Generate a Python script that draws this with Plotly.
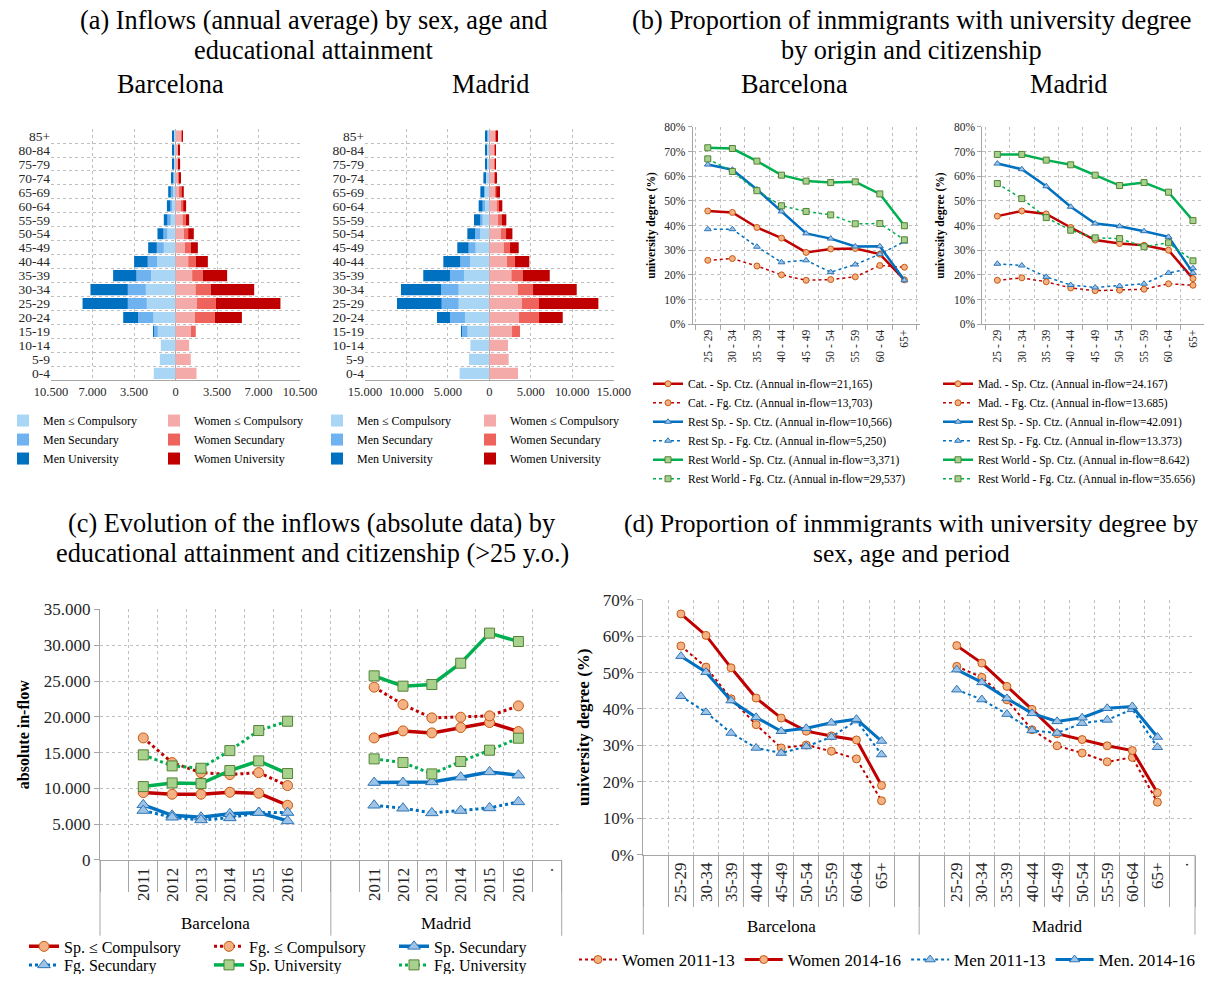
import plotly.graph_objects as go

W, H = 1212, 982          # picture size; positions below are given in picture pixels
SY = 0.984                # measured vertical ratio picture/figure of the photographed page
FONT = "Liberation Serif"
TXT = "#000000"
TICK = "#262626"
GRID = "#BFBFBF"
AXIS = "#A6A6A6"


def fx(p):
    return p / W


def fy(p):
    return 1 - (p / SY) / H


# ---------------- Panel (a): population pyramids ----------------
ages = ["0-4", "5-9", "10-14", "15-19", "20-24", "25-29", "30-34", "35-39", "40-44",
        "45-49", "50-54", "55-59", "60-64", "65-69", "70-74", "75-79", "80-84", "85+"]

bcn_men_comp = [1830, 1320, 1240, 1490, 1855, 2420, 2500, 2050, 1550, 985, 675, 395, 335, 280, 195, 140, 140, 140]
bcn_men_sec = [0, 0, 0, 340, 1290, 1600, 1520, 1240, 790, 590, 340, 280, 110, 110, 55, 30, 30, 30]
bcn_men_univ = [0, 0, 0, 50, 1265, 3820, 3150, 1970, 1150, 730, 505, 310, 280, 225, 110, 85, 55, 85]
bcn_women_comp = [1770, 1290, 1150, 1290, 1630, 1800, 1690, 1405, 1070, 790, 700, 590, 505, 365, 280, 225, 225, 480]
bcn_women_sec = [0, 0, 0, 420, 1690, 1600, 1290, 900, 650, 505, 365, 280, 140, 140, 85, 55, 55, 85]
bcn_women_univ = [0, 0, 0, 0, 2280, 5450, 3655, 2050, 1010, 590, 480, 280, 250, 195, 85, 110, 85, 55]

mad_men_comp = [3580, 2450, 2290, 2615, 2940, 3700, 3700, 3060, 2330, 1650, 1125, 805, 565, 565, 440, 320, 320, 280]
mad_men_sec = [0, 0, 0, 685, 1810, 2050, 2130, 1690, 1170, 845, 605, 280, 240, 80, 80, 80, 80, 80]
mad_men_univ = [0, 0, 0, 120, 1570, 5390, 4830, 3220, 2050, 1370, 925, 765, 485, 440, 200, 120, 80, 120]
mad_women_comp = [3460, 2330, 2250, 2735, 3580, 3940, 3420, 2655, 2130, 1730, 1370, 1045, 885, 725, 605, 565, 565, 765]
mad_women_sec = [0, 0, 0, 965, 2415, 2050, 1850, 1370, 965, 765, 645, 440, 280, 120, 160, 120, 120, 120]
mad_women_univ = [0, 0, 0, 0, 2855, 7160, 5270, 3260, 1730, 1045, 765, 565, 400, 440, 160, 80, 80, 80]

pyr_names = ["Men ≤ Compulsory", "Men Secundary", "Men University",
             "Women ≤ Compulsory", "Women Secundary", "Women University"]
pyr_colors = ["#AAD6F5", "#6EB3F0", "#0070C0", "#F5AAAA", "#EE645C", "#C00000"]

bcn_ticks = [-10500, -7000, -3500, 0, 3500, 7000, 10500]
mad_ticks = [-15000, -10000, -5000, 0, 5000, 10000, 15000]

# ---------------- Panel (b) ----------------
b_ages = ["25 - 29", "30 - 34", "35 - 39", "40 - 44", "45 - 49", "50 - 54", "55 - 59", "60 - 64", "65+"]

bcn_cat_sp = [45.9, 45.3, 39.2, 34.9, 29.1, 30.5, 30.7, 28.4, 18.0]
bcn_cat_fg = [25.9, 26.6, 23.6, 20.0, 17.8, 18.1, 19.2, 23.8, 23.1]
bcn_rsp_sp = [64.7, 62.6, 54.6, 45.7, 36.8, 34.7, 31.5, 31.6, 17.8]
bcn_rsp_fg = [38.5, 38.5, 31.4, 25.1, 25.9, 21.1, 24.2, 28.4, 33.5]
bcn_rw_sp = [71.5, 71.2, 66.1, 60.4, 58.0, 57.4, 57.7, 52.8, 39.9]
bcn_rw_fg = [67.0, 61.9, 54.1, 48.0, 45.7, 44.3, 40.7, 40.8, 34.2]

mad_mad_sp = [43.8, 45.9, 44.7, 39.2, 34.1, 32.7, 32.0, 30.0, 18.5]
mad_mad_fg = [17.8, 18.8, 17.2, 14.7, 13.6, 13.8, 14.2, 16.4, 15.8]
mad_rsp_sp = [65.1, 62.8, 55.9, 47.6, 40.8, 39.7, 37.7, 35.4, 20.8]
mad_rsp_fg = [24.5, 23.8, 19.2, 15.9, 14.9, 15.5, 16.4, 20.8, 22.7]
mad_rw_sp = [68.8, 68.8, 66.5, 64.6, 60.4, 56.2, 57.4, 53.5, 42.0]
mad_rw_fg = [57.0, 50.9, 43.2, 38.1, 35.0, 34.7, 31.4, 33.0, 25.7]

bcn_b_names = ["Cat. - Sp. Ctz. (Annual in-flow=21,165)", "Cat. - Fg. Ctz. (Annual in-flow=13,703)",
               "Rest Sp. - Sp. Ctz. (Annual in-flow=10,566)", "Rest Sp. - Fg. Ctz. (Annual in-flow=5,250)",
               "Rest World - Sp. Ctz. (Annual in-flow=3,371)", "Rest World - Fg. Ctz. (Annual in-flow=29,537)"]
mad_b_names = ["Mad. - Sp. Ctz. (Annual in-flow=24.167)", "Mad. - Fg. Ctz. (Annual in-flow=13.685)",
               "Rest Sp. - Sp. Ctz. (Annual in-flow=42.091)", "Rest Sp. - Fg. Ctz. (Annual in-flow=13.373)",
               "Rest World - Sp. Ctz. (Annual in-flow=8.642)", "Rest World - Fg. Ctz. (Annual in-flow=35.656)"]

# ---------------- Panel (c) ----------------
years = ["2011", "2012", "2013", "2014", "2015", "2016"]
c_names = ["Sp. ≤ Compulsory", "Fg. ≤ Compulsory", "Sp. Secundary",
           "Fg. Secundary", "Sp. University", "Fg. University"]
bcn_c_sp_comp = [9410, 9180, 9180, 9460, 9320, 7640]
bcn_c_fg_comp = [17050, 13600, 12200, 11930, 12200, 10390]
bcn_c_sp_sec = [7700, 6240, 5970, 6450, 6620, 5450]
bcn_c_fg_sec = [6900, 5960, 5590, 5870, 6620, 6620]
bcn_c_sp_univ = [10250, 10760, 10670, 12490, 13840, 12070]
bcn_c_fg_univ = [14680, 13140, 12810, 15280, 18080, 19380]
mad_c_sp_comp = [17050, 18030, 17750, 18500, 19200, 17940]
mad_c_fg_comp = [24140, 21710, 19850, 19940, 20130, 21530]
mad_c_sp_sec = [10810, 10810, 10900, 11560, 12300, 11840]
mad_c_fg_sec = [7640, 7220, 6570, 6900, 7270, 8110]
mad_c_sp_univ = [25720, 24280, 24510, 27490, 31690, 30520]
mad_c_fg_univ = [14120, 13610, 12020, 13750, 15330, 17010]
c_groups = ["Barcelona", "Madrid"]

# ---------------- Panel (d) ----------------
d_ages = ["25-29", "30-34", "35-39", "40-44", "45-49", "50-54", "55-59", "60-64", "65+"]
d_names = ["Women 2011-13", "Women 2014-16", "Men 2011-13", "Men. 2014-16"]
bcn_d_w1 = [57.3, 51.5, 42.8, 35.7, 29.3, 30.1, 28.4, 26.3, 14.8]
bcn_d_w2 = [66.1, 60.2, 51.3, 43.0, 37.5, 33.9, 32.6, 31.5, 19.0]
bcn_d_m1 = [43.5, 39.1, 33.4, 29.3, 27.9, 29.7, 32.3, 36.8, 27.5]
bcn_d_m2 = [54.5, 50.1, 42.3, 37.7, 33.9, 34.7, 36.2, 37.2, 31.2]
mad_d_w1 = [51.7, 48.7, 42.5, 34.3, 29.9, 27.9, 25.5, 26.7, 14.4]
mad_d_w2 = [57.4, 52.6, 46.2, 39.9, 33.2, 31.6, 29.9, 28.6, 17.0]
mad_d_m1 = [45.3, 42.6, 38.6, 34.1, 33.4, 36.1, 37.0, 39.9, 29.5]
mad_d_m2 = [50.8, 47.3, 42.9, 38.8, 36.6, 37.6, 40.2, 40.7, 32.3]

# ---------------- styles ----------------
RED, BLUE, GREEN = "#C00000", "#0070C0", "#00B050"
CIRC = dict(symbol="circle", color="#F4B183", line=dict(color="#C55A11", width=1))
TRI = dict(symbol="triangle-up", color="#9DC3E6", line=dict(color="#2E75B6", width=1))
SQR = dict(symbol="square", color="#A9D18E", line=dict(color="#548235", width=1))
line_styles = [(RED, "solid", CIRC), (RED, "dot", CIRC), (BLUE, "solid", TRI),
               (BLUE, "dot", TRI), (GREEN, "solid", SQR), (GREEN, "dot", SQR)]

fig = go.Figure()

# ---- (a) traces
for ax_id, leg_m, leg_w, series in [
    ("", "legend", "legend2", [bcn_men_comp, bcn_men_sec, bcn_men_univ,
                               bcn_women_comp, bcn_women_sec, bcn_women_univ]),
    ("2", "legend3", "legend4", [mad_men_comp, mad_men_sec, mad_men_univ,
                                 mad_women_comp, mad_women_sec, mad_women_univ]),
]:
    for i, vals in enumerate(series):
        men = i < 3
        fig.add_trace(go.Bar(
            y=ages, x=[-v for v in vals] if men else vals, orientation="h",
            name=pyr_names[i], marker=dict(color=pyr_colors[i], line=dict(width=0)),
            legend=leg_m if men else leg_w, xaxis="x" + ax_id, yaxis="y" + ax_id,
        ))

# ---- (b) traces
for ax_id, leg, names, series in [
    ("3", "legend5", bcn_b_names, [bcn_cat_sp, bcn_cat_fg, bcn_rsp_sp, bcn_rsp_fg, bcn_rw_sp, bcn_rw_fg]),
    ("4", "legend6", mad_b_names, [mad_mad_sp, mad_mad_fg, mad_rsp_sp, mad_rsp_fg, mad_rw_sp, mad_rw_fg]),
]:
    for (col, dash, mk), name, vals in zip(line_styles, names, series):
        fig.add_trace(go.Scatter(
            x=b_ages, y=vals, mode="lines+markers", name=name,
            line=dict(color=col, dash=dash, width=2.5 if dash == "solid" else 1.5),
            marker=dict(mk, size=6), legend=leg, xaxis="x" + ax_id, yaxis="y" + ax_id,
        ))

# ---- (c) traces
c_labels = [""] + years + ["", ""] + years + ["."]
c_bcn_pos = [c_labels.index(y) for y in years]
c_mad_pos = [len(c_labels) - 1 - c_labels[::-1].index(y) for y in years]
c_series = [(bcn_c_sp_comp, mad_c_sp_comp), (bcn_c_fg_comp, mad_c_fg_comp),
            (bcn_c_sp_sec, mad_c_sp_sec), (bcn_c_fg_sec, mad_c_fg_sec),
            (bcn_c_sp_univ, mad_c_sp_univ), (bcn_c_fg_univ, mad_c_fg_univ)]
for k, ((col, dash, mk), name, (b, m)) in enumerate(zip(line_styles, c_names, c_series)):
    fig.add_trace(go.Scatter(
        x=c_bcn_pos + [None] + c_mad_pos, y=b + [None] + m, mode="lines+markers", name=name,
        line=dict(color=col, dash=dash, width=3.5 if dash == "solid" else 3),
        marker=dict(mk, size=10 if mk is not TRI else 11), connectgaps=False,
        legend="legend7" if k < 3 else "legend8", xaxis="x5", yaxis="y5",
    ))

# ---- (d) traces
d_labels = [""] + d_ages + ["", ""] + d_ages + ["."]
d_bcn_pos = list(range(1, 1 + len(d_ages)))
d_mad_pos = list(range(len(d_ages) + 3, 2 * len(d_ages) + 3))
d_styles = [(RED, "dot", CIRC), (RED, "solid", CIRC), (BLUE, "dot", TRI), (BLUE, "solid", TRI)]
d_series = [(bcn_d_w1, mad_d_w1), (bcn_d_w2, mad_d_w2), (bcn_d_m1, mad_d_m1), (bcn_d_m2, mad_d_m2)]
for (col, dash, mk), name, (b, m) in zip(d_styles, d_names, d_series):
    fig.add_trace(go.Scatter(
        x=d_bcn_pos + [None] + d_mad_pos, y=b + [None] + m, mode="lines+markers", name=name,
        line=dict(color=col, dash=dash, width=3 if dash == "solid" else 2),
        marker=dict(mk, size=8 if mk is not TRI else 9), connectgaps=False,
        legend="legend9", xaxis="x6", yaxis="y6",
    ))

# ---------------- axes ----------------
tf12 = dict(family=FONT, size=12.5, color=TICK)
tf14 = dict(family=FONT, size=13.5, color=TICK)
tf11 = dict(family=FONT, size=11.5, color=TICK)
tf16 = dict(family=FONT, size=17, color=TICK)
gridd = dict(showgrid=True, gridcolor=GRID, griddash="dot", gridwidth=1)


def thousands(v):
    return f"{abs(v):,}".replace(",", ".")


def pyr_x(dom, ticks, anchor):
    return dict(domain=dom, anchor=anchor, range=[ticks[0], ticks[-1]], tickmode="array",
                tickvals=ticks, ticktext=[thousands(v) for v in ticks], tickfont=tf12,
                zeroline=True, zerolinecolor=AXIS, zerolinewidth=1, showline=True,
                linecolor=AXIS, ticks="", automargin=False, fixedrange=True, **gridd)


def pyr_y(dom, anchor):
    return dict(domain=dom, anchor=anchor, type="category", categoryorder="array",
                categoryarray=ages, tickmode="array", tickvals=ages, ticktext=ages,
                tickson="boundaries", ticks="", tickfont=tf14,
                showline=False, automargin=False, **gridd)


def b_x(dom, anchor):
    return dict(domain=dom, anchor=anchor, type="category", categoryorder="array",
                categoryarray=b_ages, tickson="boundaries", ticks="outside", ticklen=5,
                tickcolor=AXIS, tickangle=-90, tickfont=tf11, showline=True, linecolor=AXIS,
                automargin=False, **gridd)


def b_y(dom, anchor):
    return dict(domain=dom, anchor=anchor, range=[0, 80], dtick=10, ticksuffix="%",
                ticks="outside", ticklen=4, tickcolor=AXIS, tickfont=tf11, showline=True,
                linecolor=AXIS, zeroline=False, automargin=False,
                title=dict(text="university degree (%)", standoff=6,
                           font=dict(family=FONT, size=11.5, color=TXT, weight="bold")),
                **gridd)


def cat_x(dom, anchor, labels, ticklen):
    n = len(labels)
    return dict(domain=dom, anchor=anchor, range=[-0.5, n - 0.5], tickmode="array",
                tickvals=list(range(n)), ticktext=labels, tickangle=-90, ticks="",
                tickfont=tf16, showgrid=False, zeroline=False, showline=True, linecolor=AXIS,
                automargin=False,
                minor=dict(tickmode="array", tickvals=[i - 0.5 for i in range(n + 1)],
                           ticks="outside", ticklen=ticklen / SY, tickcolor=AXIS, tickwidth=1,
                           showgrid=True, gridcolor=GRID, griddash="dot", gridwidth=1))


# plot areas in picture pixels: left, right, top, bottom
A1 = (51, 300, 129, 380)
A2 = (365, 613.7, 129, 380)
B1 = (692.7, 919.5, 126.7, 324)
B2 = (982.3, 1208, 126.7, 324)
C = (100, 561.7, 609, 859.3)
D = (643.3, 1195, 599.3, 854)


def xd(r):
    return [fx(r[0]), fx(r[1])]


def yd(r):
    return [fy(r[3]), fy(r[2])]


layout = dict(
    xaxis=pyr_x(xd(A1), bcn_ticks, "y"), yaxis=pyr_y(yd(A1), "x"),
    xaxis2=pyr_x(xd(A2), mad_ticks, "y2"), yaxis2=pyr_y(yd(A2), "x2"),
    xaxis3=b_x(xd(B1), "y3"), yaxis3=b_y(yd(B1), "x3"),
    xaxis4=b_x(xd(B2), "y4"), yaxis4=b_y(yd(B2), "x4"),
    xaxis5=cat_x(xd(C), "y5", c_labels, 31),
    yaxis5=dict(domain=yd(C), anchor="x5", range=[0, 35000], dtick=5000, tickformat=",d",
                ticks="outside", ticklen=5, tickcolor=AXIS, tickfont=tf16, showline=True,
                linecolor=AXIS, zeroline=False, automargin=False,
                title=dict(text="absolute in-flow", standoff=10,
                           font=dict(family=FONT, size=16, color=TXT, weight="bold")), **gridd),
    xaxis6=cat_x(xd(D), "y6", d_labels, 51),
    yaxis6=dict(domain=yd(D), anchor="x6", range=[0, 70], dtick=10, ticksuffix="%",
                ticks="outside", ticklen=5, tickcolor=AXIS, tickfont=tf16, showline=True,
                linecolor=AXIS, zeroline=False, automargin=False,
                title=dict(text="university degree (%)", standoff=8,
                           font=dict(family=FONT, size=17, color=TXT, weight="bold")), **gridd),
)


def leg(x_px, center_px, size, orientation="v", **kw):
    # first legend row is drawn about (10 + size/2) px below the legend's top edge
    top = center_px / SY - (9.5 + size / 2)
    return dict(x=fx(x_px), y=1 - top / H, xanchor="left", yanchor="top", xref="paper", yref="paper",
                orientation=orientation, font=dict(family=FONT, size=size, color=TXT),
                bgcolor="rgba(0,0,0,0)", borderwidth=0, tracegroupgap=0, traceorder="normal", **kw)


layout.update(
    legend=leg(3, 421, 12), legend2=leg(154, 421, 12),
    legend3=leg(317, 421, 12), legend4=leg(470, 421, 12),
    legend5=leg(648, 384, 11.5), legend6=leg(938, 384, 11.5),
    legend7=leg(24, 946, 16, "h", entrywidth=140), legend8=leg(24, 965, 16, "h", entrywidth=140),
    legend9=leg(574, 959, 17, "h", itemwidth=38),
)

# ---------------- annotations & shapes ----------------
ann = []


def text(x_px, y_px, s, size, **kw):
    ann.append(dict(x=fx(x_px), y=fy(y_px), xref="paper", yref="paper", text=s, showarrow=False,
                    xanchor="center", yanchor="middle", font=dict(family=FONT, size=size, color=TXT), **kw))


TS = 26.3
text(313, 20, "(a) Inflows (annual average) by sex, age and", TS)
text(313, 50, "educational attainment", TS)
text(171, 84, "Barcelona", TS)
text(490, 84, "Madrid", TS)
text(911, 20, "(b) Proportion of inmmigrants with university degree", TS)
text(911, 50, "by origin and citizenship", TS)
text(794, 84, "Barcelona", TS)
text(1068, 84, "Madrid", TS)
text(312, 523, "(c) Evolution of the inflows (absolute data) by", TS)
text(312, 553, "educational attainment and citizenship (>25 y.o.)", TS)
text(911, 523, "(d) Proportion of inmmigrants with university degree by", 25.5)
text(911, 553, "sex, age and period", 25.5)

shapes = []


def group_axis(xa, ya, labels, rect, label_px, bottom_px):
    n = len(labels)
    plot_h = rect[3] - rect[2]
    half = n // 2
    for k in (0, half, n):
        shapes.append(dict(type="line", xref=f"{xa} domain", yref=f"{ya} domain",
                           x0=k / n, x1=k / n, y0=0, y1=-(bottom_px - rect[3]) / plot_h,
                           line=dict(color=AXIS, width=1)))
    for gi, g in enumerate(c_groups):
        ann.append(dict(xref=f"{xa} domain", yref=f"{ya} domain", x=(gi + 0.5) / 2,
                        y=-(label_px - rect[3]) / plot_h, text=g, showarrow=False,
                        xanchor="center", yanchor="middle",
                        font=dict(family=FONT, size=17, color=TXT)))


group_axis("x5", "y5", c_labels, C, 923, 935)
group_axis("x6", "y6", d_labels, D, 926, 934)

layout.update(
    annotations=ann, shapes=shapes, autosize=True,
    margin=dict(l=0, r=0, t=0, b=0),
    paper_bgcolor="white", plot_bgcolor="white",
    barmode="relative", bargap=0.2, separators=",.",
    font=dict(family=FONT, color=TXT), hovermode=False,
)
fig.update_layout(layout)

# The graph div fills the whole window; the negative margin cancels the page's default 8px body margin.
fig.write_html("out.html", default_width="100vw", default_height="100vh; margin:-8px",
               config={"displayModeBar": False, "responsive": True})
